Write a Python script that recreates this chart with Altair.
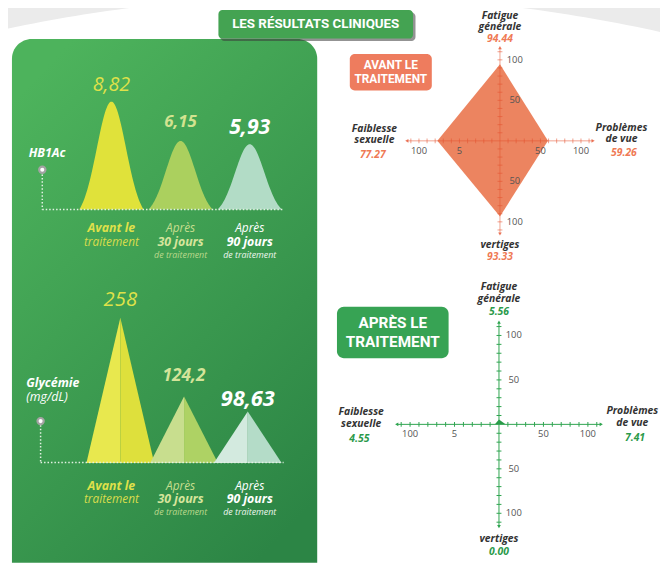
import altair as alt
import numpy as np
import pandas as pd

# ---------------- data ----------------
stage_line1 = ["Avant le", "Après", "Après"]
stage_line2 = ["traitement", "30 jours", "90 jours"]
stage_line3 = ["", "de traitement", "de traitement"]

hba1c_values = [8.82, 6.15, 5.93]
hba1c_labels = ["8,82", "6,15", "5,93"]
glycemie_values = [258, 124.2, 98.63]
glycemie_labels = ["258", "124,2", "98,63"]

symptom_line1 = ["Fatigue", "Problèmes", "vertiges", "Faiblesse"]
symptom_line2 = ["générale", "de vue", "", "sexuelle"]
scores_before = [94.44, 59.26, 93.33, 77.27]   # top, right, bottom, left
scores_after = [5.56, 7.41, 0.00, 4.55]
v_tick_values = [100, 50, -50, -100]
v_tick_labels = ["100", "50", "50", "100"]
h_tick_values = [-100, -50, 50, 100]
h_tick_labels = ["100", "5", "50", "100"]

# ---------------- layout helpers ----------------
W, H = 660, 567
M = 8
FONT = "Open Sans"
HEAD = "Roboto"


def P(v):
    return v - M


one = pd.DataFrame({"k": [0]})


def box(x1, y1, x2, y2, **kw):
    return alt.Chart(one).mark_rect(**kw).encode(
        x=alt.value(P(x1)), x2=alt.value(P(x2)), y=alt.value(P(y1)), y2=alt.value(P(y2)))


def label(text, x, y, **kw):
    kw.setdefault("font", FONT)
    kw.setdefault("align", "center")
    kw.setdefault("baseline", "middle")
    return alt.Chart(one).mark_text(text=text, **kw).encode(
        x=alt.value(P(x)), y=alt.value(P(y)))


def seg(x1, y1, x2, y2, **kw):
    return alt.Chart(one).mark_rule(**kw).encode(
        x=alt.value(P(x1)), y=alt.value(P(y1)), x2=alt.value(P(x2)), y2=alt.value(P(y2)))


def dot(x, y):
    return alt.Chart(one).mark_point(shape="circle", filled=True, fill="white", stroke="#a3a3a3",
                                     strokeWidth=2.2, size=40, opacity=1).encode(
        x=alt.value(P(x)), y=alt.value(P(y)))


layers = []

# background swoosh
sx = np.linspace(0, 668, 80)
sy = 3.24e-4 * (sx - 330) ** 2 - 8.3
canvas_x = alt.Scale(domain=[M, 668], range=[0, W], nice=False, zero=False)
canvas_y = alt.Scale(domain=[M, 575], range=[0, H], nice=False, zero=False)
layers.append(alt.Chart(pd.DataFrame({"sx": sx, "sy": sy})).mark_area(color="#ebebeb").encode(
    x=alt.X("sx:Q", scale=canvas_x, axis=None),
    y=alt.Y("sy:Q", scale=canvas_y, axis=None),
    y2=alt.datum(-50)))

# green panel
grad = alt.LinearGradient(gradient="linear",
                          stops=[alt.GradientStop(color="#4db35c", offset=0),
                                 alt.GradientStop(color="#2c8545", offset=1)],
                          x1=0.2, y1=0, x2=0.8, y2=1)
layers.append(box(12, 36, 321, 566, fill=grad, cornerRadiusTopLeft=20, cornerRadiusTopRight=20))

# title banner
layers.append(box(223, 9, 420.5, 38, color="#3a3a3a", opacity=0.55, cornerRadius=4))
layers.append(box(221, 6.5, 418, 35.5, color="#44a352", cornerRadius=4))
layers.append(label("LES RÉSULTATS CLINIQUES", 319.5, 21, font=HEAD, fontWeight="bold",
                    fontSize=13.5, color="white"))

# ---------------- HbA1c bells ----------------
BELL_LO = 1.5
bell_x = alt.Scale(domain=[-0.5, 2.5], range=[P(112.7 - 35), P(252.7 + 35)], nice=False, zero=False)
bell_y = alt.Scale(domain=[BELL_LO, max(hba1c_values)], range=[P(208.5), P(99.3)], nice=False, zero=False)
BX = lambda f: alt.X(f, scale=bell_x, axis=None)
BY = lambda f: alt.Y(f, scale=bell_y, axis=None)
bell_colors = ["#e0e23a", "#abd05e", "#b2dcc6"]

t = np.linspace(-1, 1, 81)
k = 2.2
e0 = np.exp(-k * k / 2)
g = (np.exp(-(k * t) ** 2 / 2) - e0) / (1 - e0)
rows = []
for i, v in enumerate(hba1c_values):
    for tt, gg in zip(t, g):
        rows.append({"bx": i + tt * 0.465, "by": BELL_LO + (v - BELL_LO) * gg,
                     "fill": bell_colors[i], "stage": i})
bell_df = pd.DataFrame(rows)
bell_parts = [alt.Chart(bell_df).mark_area(opacity=1).encode(
    x=BX("bx:Q"), y=BY("by:Q"), y2=alt.datum(BELL_LO),
    color=alt.Color("fill:N", scale=None), detail="stage:N")]

bell_val_styles = [
    dict(fontSize=20, fontWeight="normal", color="#dfe14a", dy=-11),
    dict(fontSize=17, fontWeight="bold", color="#d3e390", dy=-14),
    dict(fontSize=21.5, fontWeight="bold", color="white", dy=-10),
]
for i, v in enumerate(hba1c_values):
    d = pd.DataFrame({"bx": [i], "by": [v], "lab": [hba1c_labels[i]]})
    bell_parts.append(alt.Chart(d).mark_text(font=FONT, fontStyle="italic", align="center",
                                             baseline="alphabetic", **bell_val_styles[i]).encode(
        x=BX("bx:Q"), y=BY("by:Q"), text="lab:N"))

# stage labels (shared by both groups)
stage_styles = {
    (0, 0): (12.5, "bold", "#dfe04a"), (0, 1): (12, "normal", "#d9dc4c"),
    (1, 0): (12, "normal", "#c6de8e"), (1, 1): (12.5, "bold", "#d6e59c"), (1, 2): (9, "normal", "#bcd98c"),
    (2, 0): (12, "normal", "white"), (2, 1): (12.5, "bold", "white"), (2, 2): (9, "normal", "#eef7ef"),
}
stage_lines = [stage_line1, stage_line2, stage_line3]
for rows_y in ([227, 241, 254.5], [488, 501.5, 515]):
    for i in range(3):
        for j in range(3):
            txt = stage_lines[j][i]
            if not txt:
                continue
            fs, fw, col = stage_styles[(i, j)]
            d = pd.DataFrame({"bx": [i], "lab": [txt]})
            bell_parts.append(alt.Chart(d).mark_text(font=FONT, fontStyle="italic", fontWeight=fw,
                                                     fontSize=fs, color=col, align="center",
                                                     baseline="middle").encode(
                x=BX("bx:Q"), y=alt.value(P(rows_y[j])), text="lab:N"))
layers.append(alt.layer(*bell_parts))

# HbA1c marker
layers.append(seg(42.7, 173, 42.7, 208.5, color="#e3f1e3", strokeDash=[1.5, 2], strokeWidth=1.5))
layers.append(seg(42.7, 208.5, 287, 208.5, color="#e3f1e3", strokeDash=[1.5, 2], strokeWidth=1.5))
layers.append(dot(42.7, 168.3))
layers.append(label("HB1Ac", 47.5, 151, fontStyle="italic", fontWeight="bold", fontSize=12.5, color="white"))

# ---------------- Glycemie triangles ----------------
TRI_LO = 11.4
tri_x = alt.Scale(domain=[-0.5, 2.5], range=[P(121.7 - 32.25), P(250.7 + 32.25)], nice=False, zero=False)
tri_y = alt.Scale(domain=[TRI_LO, max(glycemie_values)], range=[P(465), P(318)], nice=False, zero=False)
TX = lambda f: alt.X(f, scale=tri_x, axis=None)
TY = lambda f: alt.Y(f, scale=tri_y, axis=None)
tri_left = ["#e8e84e", "#c8de8e", "#d3eadf"]
tri_right = ["#dee03c", "#aed264", "#b4dcc8"]
half = 0.532
rows = []
for i, v in enumerate(glycemie_values):
    rows += [{"tx": i - half, "ty": TRI_LO, "fill": tri_left[i], "key": f"{i}a"},
             {"tx": i, "ty": v, "fill": tri_left[i], "key": f"{i}a"},
             {"tx": i, "ty": v, "fill": tri_right[i], "key": f"{i}b"},
             {"tx": i + half, "ty": TRI_LO, "fill": tri_right[i], "key": f"{i}b"}]
tri_df = pd.DataFrame(rows)
tri_parts = [alt.Chart(tri_df).mark_area(opacity=1).encode(
    x=TX("tx:Q"), y=TY("ty:Q"), y2=alt.datum(TRI_LO),
    color=alt.Color("fill:N", scale=None), detail="key:N")]
tri_val_styles = [
    dict(fontSize=20.5, fontWeight="normal", color="#dfe24a", dy=-12),
    dict(fontSize=17.5, fontWeight="bold", color="#d4e49a", dy=-16),
    dict(fontSize=22, fontWeight="bold", color="white", dy=-6),
]
for i, v in enumerate(glycemie_values):
    d = pd.DataFrame({"tx": [i], "ty": [v], "lab": [glycemie_labels[i]]})
    tri_parts.append(alt.Chart(d).mark_text(font=FONT, fontStyle="italic", align="center",
                                            baseline="alphabetic", **tri_val_styles[i]).encode(
        x=TX("tx:Q"), y=TY("ty:Q"), text="lab:N"))
layers.append(alt.layer(*tri_parts))

layers.append(seg(41, 427, 41, 464.5, color="#e3f1e3", strokeDash=[1.5, 2], strokeWidth=1.5))
layers.append(seg(41, 464.5, 287, 464.5, color="#e3f1e3", strokeDash=[1.5, 2], strokeWidth=1.5))
layers.append(dot(41, 422.7))
layers.append(label("Glycémie", 26.5, 384.5, align="left", fontStyle="italic", fontWeight="bold",
                    fontSize=12.5, color="white"))
layers.append(label("(mg/dL)", 26.5, 398, align="left", fontStyle="italic", fontSize=12.5, color="white"))


# ---------------- radars ----------------
def radar(cx, cy, r, scores, fill, axis_color, axis_opacity, value_color):
    xs = alt.Scale(domain=[-100, 100], range=[P(cx) - r, P(cx) + r], nice=False, zero=False)
    ys = alt.Scale(domain=[-100, 100], range=[P(cy) + r, P(cy) - r], nice=False, zero=False)
    X = lambda f: alt.X(f, scale=xs, axis=None)
    Y = lambda f: alt.Y(f, scale=ys, axis=None)
    top, right, bottom, left = scores
    parts = []
    poly = pd.DataFrame({"px": [-left, 0, right], "py": [0, top, 0], "py2": [0, -bottom, 0]})
    parts.append(alt.Chart(poly).mark_area(color=fill, opacity=1).encode(
        x=X("px:Q"), y=Y("py:Q"), y2="py2:Q"))
    ext = 115
    axes = pd.DataFrame({"x1": [-ext, 0], "x2": [ext, 0], "y1": [0, -ext], "y2": [0, ext]})
    parts.append(alt.Chart(axes).mark_rule(color=axis_color, opacity=axis_opacity, strokeWidth=1).encode(
        x=X("x1:Q"), x2="x2:Q", y=Y("y1:Q"), y2="y2:Q"))
    tv = [v for v in range(-110, 111, 10) if v != 0]
    parts.append(alt.Chart(pd.DataFrame({"tx": tv, "ty": [0] * len(tv)})).mark_tick(
        orient="vertical", size=5, thickness=1, color=axis_color, opacity=axis_opacity).encode(
        x=X("tx:Q"), y=Y("ty:Q")))
    parts.append(alt.Chart(pd.DataFrame({"tx": [0] * len(tv), "ty": tv})).mark_tick(
        orient="horizontal", size=5, thickness=1, color=axis_color, opacity=axis_opacity).encode(
        x=X("tx:Q"), y=Y("ty:Q")))
    arr = pd.DataFrame({"ax": [ext, -ext, 0, 0], "ay": [0, 0, ext, -ext],
                        "sh": ["triangle-right", "triangle-left", "triangle-up", "triangle-down"]})
    parts.append(alt.Chart(arr).mark_point(filled=True, size=14, color=axis_color,
                                           opacity=min(1, axis_opacity + 0.2)).encode(
        x=X("ax:Q"), y=Y("ay:Q"), shape=alt.Shape("sh:N", scale=None)))
    vt = pd.DataFrame({"tx": [0] * 4, "ty": v_tick_values, "lab": v_tick_labels})
    parts.append(alt.Chart(vt).mark_text(font=FONT, fontSize=9.5, color="#555555", dx=15,
                                         align="center", baseline="middle").encode(
        x=X("tx:Q"), y=Y("ty:Q"), text="lab:N"))
    ht = pd.DataFrame({"tx": h_tick_values, "ty": [0] * 4, "lab": h_tick_labels})
    parts.append(alt.Chart(ht).mark_text(font=FONT, fontSize=9.5, color="#555555", dy=10,
                                         align="center", baseline="middle").encode(
        x=X("tx:Q"), y=Y("ty:Q"), text="lab:N"))
    name_pos = [[(0, 154.5), (0, 140.5)], [(150, 15.5), (150, 2)], [(0, -129)], [(-155, 14), (-155, 0.5)]]
    value_pos = [(0, 126), (153, -15), (0, -144), (-157, -17)]
    nrows = []
    for i in range(4):
        lines = [symptom_line1[i], symptom_line2[i]]
        for (px_, py_), txt in zip(name_pos[i], lines):
            if txt:
                nrows.append({"nx": px_, "ny": py_, "lab": txt})
    parts.append(alt.Chart(pd.DataFrame(nrows)).mark_text(
        font=FONT, fontSize=10.5, fontStyle="italic", fontWeight="bold", color="#333333",
        align="center", baseline="middle").encode(x=X("nx:Q"), y=Y("ny:Q"), text="lab:N"))
    vrows = [{"nx": value_pos[i][0], "ny": value_pos[i][1], "lab": f"{scores[i]:.2f}"} for i in range(4)]
    parts.append(alt.Chart(pd.DataFrame(vrows)).mark_text(
        font=FONT, fontSize=10.5, fontStyle="italic", fontWeight="bold", color=value_color,
        align="center", baseline="middle").encode(x=X("nx:Q"), y=Y("ny:Q"), text="lab:N"))
    return alt.layer(*parts)


layers.append(radar(506, 139, 82, scores_before, "#ec8460", "#e4522f", 0.55, "#ef7a55"))
layers.append(radar(505, 426, 90, scores_after, "#2a9a48", "#2ea44f", 1.0, "#2b9a4a"))

# section banners
layers.append(box(354, 51, 437, 88, color="#ee7c5e", cornerRadius=5))
layers.append(label("AVANT LE", 395.5, 62.5, font=HEAD, fontWeight="bold", fontSize=12, color="white"))
layers.append(label("TRAITEMENT", 395.5, 76.5, font=HEAD, fontWeight="bold", fontSize=12, color="white"))
layers.append(box(341, 307, 454, 359, color="#37a354", cornerRadius=7))
layers.append(label("APRÈS LE", 397.5, 323.5, font=HEAD, fontWeight="bold", fontSize=15.5, color="white"))
layers.append(label("TRAITEMENT", 397.5, 343, font=HEAD, fontWeight="bold", fontSize=15.5, color="white"))

chart = alt.layer(*layers).resolve_scale(
    x="independent", y="independent", color="independent", shape="independent"
).properties(
    width=W, height=H, padding=0, background="white",
    autosize=alt.AutoSizeParams(type="none"),
).configure_view(stroke=None)

chart.save("out.html", embed_options={"renderer": "svg", "actions": False})
